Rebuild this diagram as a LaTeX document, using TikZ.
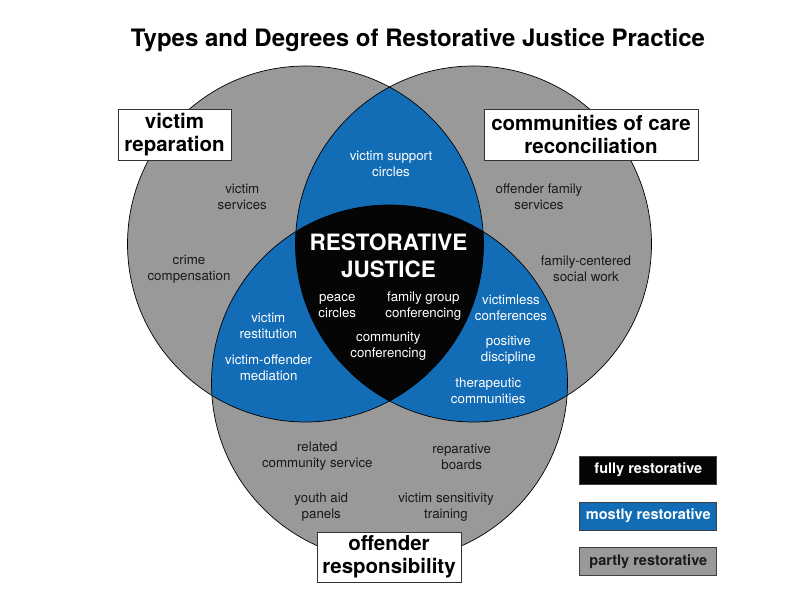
\documentclass[tikz,border=0pt]{standalone}
\usepackage{fontspec}
\setmainfont{TeX Gyre Heros}
\definecolor{rjblue}{RGB}{18,108,182}
\definecolor{rjgray}{RGB}{153,153,153}
\definecolor{rjblack}{RGB}{5,5,5}
\definecolor{rjtext}{RGB}{25,25,25}
\begin{document}
\begin{tikzpicture}[x=1pt,y=-1pt,
  graytxt/.style={align=center,font=\fontsize{13.3}{16}\selectfont,text=rjtext,inner sep=0pt},
  whitetxt/.style={align=center,font=\fontsize{13.3}{16}\selectfont,text=white,inner sep=0pt},
  labelbox/.style={draw=black!80,fill=white,line width=0.9pt,align=center,
    font=\fontsize{20.5}{23.3}\bfseries\selectfont,inner sep=0pt,minimum height=51pt},
  legendbox/.style={draw=black!75,line width=0.9pt,minimum width=137pt,minimum height=28pt,
    inner sep=0pt,font=\fontsize{14.5}{16}\bfseries\selectfont},
  venn/.style={line width=0.7pt,draw=black}
]
\useasboundingbox (0,0) rectangle (792,612);
\coordinate (cl) at (305.5,244);
\coordinate (cr) at (473.5,244);
\coordinate (cb) at (389.5,383);
\def\R{178pt}
% partly restorative: union of the three circles
\fill[rjgray] (cl) circle[radius=\R] (cr) circle[radius=\R] (cb) circle[radius=\R];
% mostly restorative: pairwise intersections
\begin{scope}
  \clip (cl) circle[radius=\R];
  \fill[rjblue] (cr) circle[radius=\R] (cb) circle[radius=\R];
\end{scope}
\begin{scope}
  \clip (cr) circle[radius=\R];
  \fill[rjblue] (cb) circle[radius=\R];
\end{scope}
% fully restorative: triple intersection
\begin{scope}
  \clip (cl) circle[radius=\R];
  \clip (cr) circle[radius=\R];
  \fill[rjblack] (cb) circle[radius=\R];
\end{scope}
\draw[venn] (cl) circle[radius=\R];
\draw[venn] (cr) circle[radius=\R];
\draw[venn] (cb) circle[radius=\R];

% title
\node[font=\fontsize{24}{28}\bfseries\selectfont] (title) at (418,40) {Types and Degrees of Restorative Justice Practice};

% labels
\node[labelbox,minimum width=113pt] (vr) at (174.5,134.5) {victim\\reparation};
\node[labelbox,minimum width=214pt] (cc) at (591,134.5) {communities of care\\reconciliation};
\node[labelbox,minimum width=144pt,minimum height=50pt] (or) at (389,557) {offender\\responsibility};

% center
\node[align=center,text=white,font=\fontsize{22.5}{27}\bfseries\selectfont,inner sep=0pt] (rj) at (388.5,255.5) {RESTORATIVE\\JUSTICE};
\node[whitetxt] (pc) at (337.3,306.5) {peace\\circles};
\node[whitetxt] (fg) at (423.3,306.5) {family group\\conferencing};
\node[whitetxt] (cm) at (388.3,346.7) {community\\conferencing};

% blue regions
\node[whitetxt] (vs) at (391,163.5) {victim support\\circles};
\node[whitetxt] (vre) at (268.3,325.5) {victim\\restitution};
\node[whitetxt] (vom) at (268.7,367.5) {victim-offender\\mediation};
\node[whitetxt] (vc) at (511,308) {victimless\\conferences};
\node[whitetxt] (pd) at (508.3,350) {positive\\discipline};
\node[whitetxt] (tc) at (488.3,391) {therapeutic\\communities};

% gray regions
\node[graytxt] (vsv) at (242.3,197) {victim\\services};
\node[graytxt] (crc) at (189,269) {crime\\compensation};
\node[graytxt] (ofs) at (539,197) {offender family\\services};
\node[graytxt] (fcs) at (586,269) {family-centered\\social work};
\node[graytxt] (rcs) at (317.3,456.5) {related\\community service};
\node[graytxt] (rb) at (461.7,456.5) {reparative\\boards};
\node[graytxt] (ya) at (321.3,507.3) {youth aid\\panels};
\node[graytxt] (vst) at (446,507.3) {victim sensitivity\\training};

% legend
\node[legendbox,fill=rjblack,text=white] (lf) at (648.3,470) {fully restorative};
\node[legendbox,fill=rjblue,text=white] (lm) at (648.3,516) {mostly restorative};
\node[legendbox,fill=rjgray,text=rjtext] (lp) at (648.3,561.7) {partly restorative};
\end{tikzpicture}
\end{document}
